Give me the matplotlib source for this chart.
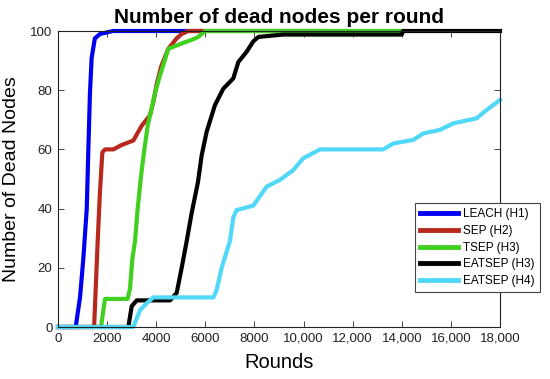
import matplotlib
matplotlib.use('Agg')
import matplotlib.pyplot as plt

plt.rcParams['font.family'] = ['Liberation Sans', 'DejaVu Sans']

# Дані (раунди, кількість мертвих вузлів)
leach_x = [0, 720, 895, 1030, 1170, 1235, 1300, 1370, 1500, 1710, 2240, 5800]
leach_y = [0, 0, 10, 23, 40, 60, 79, 91, 97.5, 99, 100, 100]

sep_x = [0, 1470, 1615, 1710, 1805, 1914, 2252, 2592, 3068, 3407, 3746, 3882,
         4017, 4200, 4492, 4832, 5036, 5300, 10700]
sep_y = [0, 0, 29, 46, 59, 60, 60, 61.5, 63, 68, 71.5, 76,
         82, 88, 94, 97.5, 99, 100, 100]

tsep_x = [0, 1750, 1914, 2836, 2932, 3027, 3135, 3244, 3380, 3516, 3652, 3814,
          3950, 4153, 4288, 4492, 5103, 5442, 5714, 5985, 14000]
tsep_y = [0, 0, 9.5, 9.5, 13, 23, 29, 40, 51, 60, 68, 74,
          79, 85, 88.5, 94, 96, 97, 98, 100, 100]

eatsep3_x = [0, 2864, 3000, 3204, 4560, 4832, 5036, 5240, 5442, 5700, 5850, 6054,
             6392, 6730, 7139, 7342, 7682, 7953, 8157, 9175, 14000, 14050, 18000]
eatsep3_y = [0, 0, 7, 9, 9, 11.5, 20, 29, 38.5, 49, 58, 66,
             75, 80.5, 84, 89.5, 93, 96.5, 98, 98.8, 98.8, 100, 100]

eatsep4_x = [0, 3068, 3340, 3610, 3882, 6325, 6460, 6664, 7000, 7139, 7275, 7953,
             8496, 9040, 9581, 9988, 10668, 13246, 13653, 14467, 14874, 15554,
             16097, 17046, 17453, 18000]
eatsep4_y = [0, 0, 5.7, 8, 10, 10, 12.5, 20, 29, 37, 39.5, 41,
             47.4, 49.7, 53, 57, 60, 60, 62, 63.2, 65.4, 66.6,
             68.8, 70.5, 73.3, 76.7]

series = [
    ('LEACH (H1)', leach_x, leach_y, '#0000F0'),
    ('SEP (H2)', sep_x, sep_y, '#B8281C'),
    ('TSEP (H3)', tsep_x, tsep_y, '#40D020'),
    ('EATSEP (H3)', eatsep3_x, eatsep3_y, '#000000'),
    ('EATSEP (H4)', eatsep4_x, eatsep4_y, '#50D8F8'),
]

x_ticks = [0, 2000, 4000, 6000, 8000, 10000, 12000, 14000, 16000, 18000]
x_tick_labels = ['0', '2000', '4000', '6000', '8000', '10,000', '12,000',
                 '14,000', '16,000', '18,000']
y_ticks = [0, 20, 40, 60, 80, 100]

fig = plt.figure(figsize=(5.5, 3.79), dpi=100)
ax = fig.add_axes([0.1055, 0.1372, 0.8036, 0.781])

for name, xs, ys, color in series:
    ax.plot(xs, ys, color=color, linewidth=3, label=name, clip_on=False)

ax.set_xlim(0, 18000)
ax.set_ylim(0, 100)
ax.set_xticks(x_ticks)
ax.set_xticklabels(x_tick_labels)
ax.set_yticks(y_ticks)
ax.tick_params(direction='in', top=True, right=True, labelsize=9.5, length=4,
               width=0.6, colors='#222222', pad=4)
for sp in ax.spines.values():
    sp.set_linewidth(0.8)
    sp.set_color('#222222')

ax.set_xlabel('Rounds', fontsize=14.5, labelpad=6)
ax.set_ylabel('Number of Dead Nodes', fontsize=14, labelpad=7)
ax.set_title('Number of dead nodes per round', fontsize=15, fontweight='bold', pad=6)

leg = ax.legend(loc='upper left', bbox_to_anchor=(0.808, 0.419), fontsize=8.5,
                frameon=True, fancybox=False, framealpha=1, edgecolor='#444444',
                handlelength=3.2, handletextpad=0.4, borderpad=0.45,
                labelspacing=0.4, borderaxespad=0)
leg.get_frame().set_linewidth(0.8)
for line in leg.get_lines():
    line.set_linewidth(3.5)

fig.savefig('out.png', dpi=100)
